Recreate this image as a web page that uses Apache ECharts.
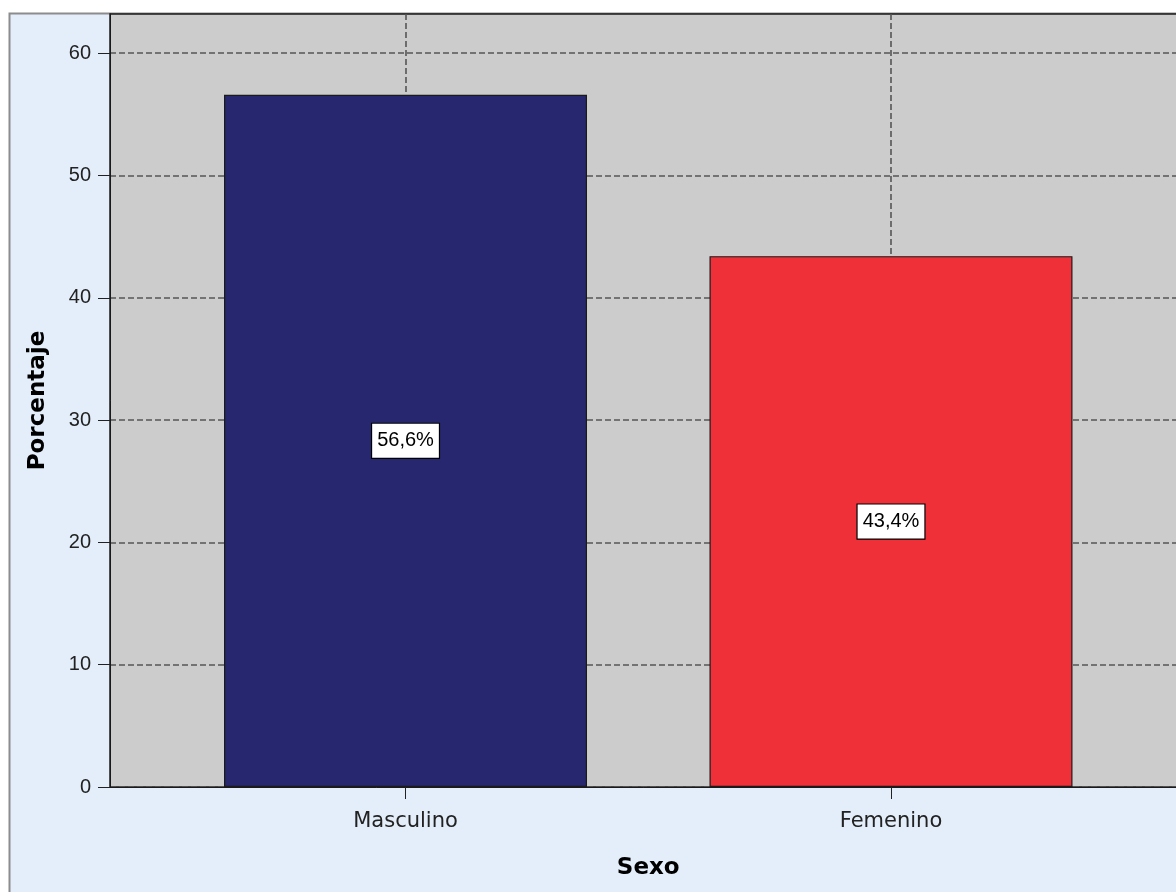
<!DOCTYPE html>
<html><head><meta charset="utf-8">
<script src="https://cdn.jsdelivr.net/npm/echarts@6/dist/echarts.min.js"></script>
<style>html,body{margin:0;padding:0;background:#fff}#c{width:1176px;height:892px}</style>
</head><body><div id="c"></div>
<script>
const categories = ['Masculino', 'Femenino'];
const values = [56.6, 43.4];
const barColors = ['#26276F', '#EF3039'];
const yTicks = [0, 10, 20, 30, 40, 50, 60];
const xPositions = categories.map((c, i) => i + 1);

const chart = echarts.init(document.getElementById('c'), null, {renderer: 'canvas'});
chart.setOption({
  animation: false,
  backgroundColor: '#ffffff',
  graphic: [{
    type: 'rect', z: -100, silent: true,
    shape: {x: 9.5, y: 13.5, width: 1200, height: 900},
    style: {fill: '#E3EEFA', stroke: '#8c8c8c', lineWidth: 2}
  }],
  grid: {left: 110, top: 14, right: -10.5, bottom: 105, show: true,
         outerBoundsMode: 'none', containLabel: false,
         backgroundColor: '#CCCCCC', borderColor: '#1a1a1a', borderWidth: 1.5},
  xAxis: {
    type: 'value', min: 0.3913, max: 2.6087,
    name: 'Sexo', nameLocation: 'middle', nameGap: 70,
    nameTextStyle: {fontFamily: 'DejaVu Sans', fontWeight: 'bold', fontSize: 23, color: '#000'},
    axisLine: {show: true, lineStyle: {color: '#1a1a1a', width: 1}},
    axisTick: {show: true, customValues: xPositions, length: 12, lineStyle: {color: '#222'}},
    axisLabel: {customValues: xPositions, margin: 24,
      formatter: v => categories[Math.round(v) - 1] || '',
      fontFamily: 'DejaVu Sans', fontSize: 21, color: '#222'},
    splitLine: {show: true, lineStyle: {color: '#555', width: 1.6, type: [6, 3]}}
  },
  yAxis: {
    type: 'value', min: 0, max: 63.2, interval: 10,
    name: 'Porcentaje', nameLocation: 'middle', nameGap: 60,
    nameTextStyle: {fontFamily: 'DejaVu Sans', fontWeight: 'bold', fontSize: 23, color: '#000'},
    axisLine: {show: true, lineStyle: {color: '#1a1a1a', width: 1}},
    axisTick: {show: true, customValues: yTicks, length: 12, lineStyle: {color: '#222'}},
    axisLabel: {customValues: yTicks, margin: 19,
      fontFamily: 'Liberation Sans', fontSize: 20, color: '#222'},
    splitLine: {show: true, lineStyle: {color: '#555', width: 1.6, type: [6, 3]}}
  },
  series: [{
    type: 'bar',
    barWidth: 363,
    data: values.map((v, i) => ({value: [xPositions[i], v], itemStyle: {color: barColors[i]}})),
    itemStyle: {borderColor: '#1a1a1a', borderWidth: 1.2},
    label: {
      show: true, position: 'inside',
      formatter: p => String(p.value[1]).replace('.', ',') + '%',
      fontFamily: 'Liberation Sans', fontSize: 20, color: '#000',
      backgroundColor: '#ffffff', borderColor: '#000', borderWidth: 1.2,
      padding: [8, 5, 4, 5], lineHeight: 22
    }
  }]
});
</script></body></html>
